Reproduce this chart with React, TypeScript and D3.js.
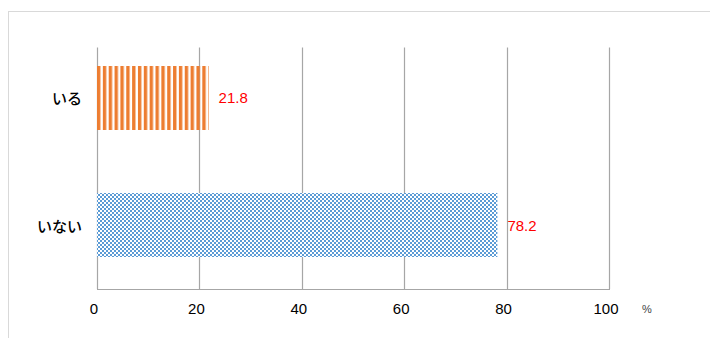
import React from "react";
import * as d3 from "d3";

const categories = ["いる", "いない"];
const values = [21.8, 78.2];
const tickValues = [0, 20, 40, 60, 80, 100];
const unitLabel = "%";

const W = 710;
const H = 338;

export default function App() {
  const x = d3.scaleLinear().domain([0, 100]).range([97, 609]);
  const y = d3
    .scaleBand<string>()
    .domain(categories)
    .range([34, 289])
    .paddingInner(0.5)
    .paddingOuter(0.25);
  const gridTop = 47.5;
  const axisY = 289;
  const fills = ["url(#stripes)", "url(#checker)"];
  const font = "'Liberation Sans', Arial, sans-serif";

  return (
    <svg
      width={W}
      height={H}
      style={{ position: "absolute", left: 0, top: 0, background: "#fff" }}
    >
      <defs>
        <pattern id="stripes" patternUnits="userSpaceOnUse" x={97} y={0} width={5.85} height={10}>
          <rect x={0} y={0} width={3.4} height={10} fill="#ed7d31" />
        </pattern>
        <pattern id="checker" patternUnits="userSpaceOnUse" x={0} y={0} width={4} height={4}>
          <rect x={0} y={0} width={4} height={4} fill="#fff" shapeRendering="crispEdges" />
          <rect x={0} y={0} width={2} height={2} fill="#5b9bd5" shapeRendering="crispEdges" />
          <rect x={2} y={2} width={2} height={2} fill="#5b9bd5" shapeRendering="crispEdges" />
        </pattern>
      </defs>
      <rect x={8.5} y={11.5} width={W} height={H} fill="#fff" stroke="#d9d9d9" strokeWidth={1} />
      {tickValues.map((t) => (
        <line
          key={"g" + t}
          x1={Math.round(x(t)) + 0.5}
          x2={Math.round(x(t)) + 0.5}
          y1={gridTop}
          y2={axisY}
          stroke="#a6a6a6"
          strokeWidth={1.2}
        />
      ))}
      <line x1={x(0)} x2={x(100) + 1} y1={axisY + 0.5} y2={axisY + 0.5} stroke="#a6a6a6" strokeWidth={1.2} />
      {categories.map((c, i) => (
        <g key={c}>
          <rect
            x={x(0)}
            y={Math.round(y(c) as number)}
            width={x(values[i]) - x(0)}
            height={Math.round(y.bandwidth())}
            fill={fills[i]}
          />
          <text
            x={x(values[i]) + 10}
            y={(y(c) as number) + y.bandwidth() / 2}
            dy="0.35em"
            fill="#ff0000"
            fontSize={15}
            fontFamily={font}
          >
            {values[i].toFixed(1)}
          </text>
          <text
            x={82}
            y={(y(c) as number) + y.bandwidth() / 2 + 1}
            dy="0.35em"
            textAnchor="end"
            fill="#000"
            fontSize={15}
            fontWeight={500}
            fontFamily="'Noto Sans CJK JP', sans-serif"
          >
            {c}
          </text>
        </g>
      ))}
      {tickValues.map((t) => (
        <text
          key={"t" + t}
          x={x(t) - 3}
          y={309}
          dy="0.35em"
          textAnchor="middle"
          fill="#000"
          fontSize={15}
          fontFamily={font}
        >
          {t}
        </text>
      ))}
      <text x={647} y={309} dy="0.35em" textAnchor="middle" fill="#444" fontSize={11} fontFamily={font}>
        {unitLabel}
      </text>
    </svg>
  );
}
